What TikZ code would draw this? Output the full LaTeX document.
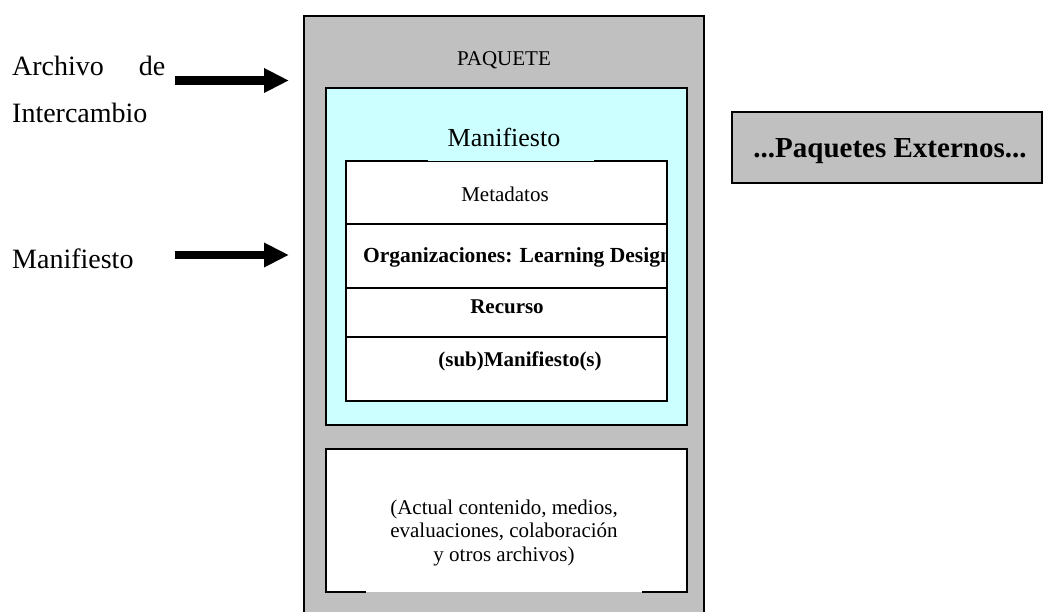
\documentclass[tikz,border=0pt]{standalone}
\usepackage{fontspec}
\setmainfont{Liberation Serif}
\usetikzlibrary{arrows.meta,calc}
\definecolor{pkggray}{HTML}{C0C0C0}
\definecolor{manicyan}{HTML}{CCFFFF}
\tikzset{
  box/.style={rectangle, inner sep=0pt, outer sep=0pt, anchor=north west, draw=none},
  border/.style={line width=1.7pt, line join=miter},
  thinborder/.style={line width=0.5pt},
  divider/.style={line width=1.6pt},
  fatarrow/.style={line width=8.5pt, -{Triangle[length=25pt,width=23pt]}},
  sidelabel/.style={anchor=base west, inner sep=0pt, font=\fontsize{28}{28}\selectfont},
  plain/.style={anchor=base, inner sep=0pt, font=\fontsize{21}{21}\selectfont},
  strong/.style={anchor=base, inner sep=0pt, font=\fontsize{21}{21}\selectfont\bfseries},
}
\begin{document}
\begin{tikzpicture}[x=1pt,y=-1pt]
\useasboundingbox (0,0) rectangle (1044,612);
\fill[white] (0,0) rectangle (1044,612);
\clip (0,0) rectangle (1044,612);

% package container (runs past the lower edge)
\node[box, fill=pkggray, minimum width=400pt, minimum height=620pt] (pkg) at (304,16) {};
\draw[border] (pkg.south west) -- (pkg.north west) -- (pkg.north east) -- (pkg.south east);
\node[plain] (pkgtitle) at (504,66) {PAQUETE};

% manifest region
\node[box, fill=manicyan, minimum width=361pt, minimum height=337pt] (mani) at (326,88) {};
\draw[border] (mani.north west) rectangle (mani.south east);
\node[anchor=base, inner sep=0pt, font=\fontsize{26}{26}\selectfont] (manititle) at (504,147) {Manifiesto};

% manifest contents
\node[box, fill=white, minimum width=321pt, minimum height=240pt] (inner) at (346,161) {};
\begin{scope}
  \clip (inner.north west) rectangle (inner.south east);
  \node[strong, anchor=base west, font=\fontsize{21.5}{21.5}\selectfont\bfseries] (org) at (363,263) {Organizaciones: Learning Design};
\end{scope}
\draw[thinborder] ($(inner.north west)+(82,0)$) -- ($(inner.north east)+(-73,0)$);
\draw[border] ($(inner.north west)+(82,0)$) -- (inner.north west) -- (inner.south west)
  -- (inner.south east) -- (inner.north east) -- ($(inner.north east)+(-73,0)$);
\coordinate (d1) at (346,224);
\coordinate (d2) at (346,288);
\coordinate (d3) at (346,337);
\draw[divider] (d1) -- (d1 -| inner.east);
\draw[divider] (d2) -- (d2 -| inner.east);
\draw[divider] (d3) -- (d3 -| inner.east);
\node[plain] (meta) at (505,202) {Metadatos};
\node[strong] (rec) at (507,313) {Recurso};
\node[strong] (sub) at (520,366) {(sub)Manifiesto(s)};

% content files
\node[box, fill=white, minimum width=361pt, minimum height=143pt] (files) at (326,449) {};
\draw[border] ($(files.south west)+(40,0)$) -- (files.south west) -- (files.north west)
  -- (files.north east) -- (files.south east) -- ($(files.south east)+(-45,0)$);
\node[anchor=base, inner sep=0pt, align=center, font=\fontsize{21}{23.5}\selectfont] (cnt) at (504,561)
  {(Actual contenido, medios,\\evaluaciones, colaboración\\y otros archivos)};

% external packages
\node[box, fill=pkggray, minimum width=310pt, minimum height=71pt] (ext) at (732,112) {};
\draw[border] (ext.north west) rectangle (ext.south east);
\node[anchor=base, inner sep=0pt, font=\fontsize{29}{29}\selectfont\bfseries] (exttitle) at (890,158) {...Paquetes Externos...};

% side labels and arrows
\node[sidelabel] (arch) at (12,76) {\makebox[153pt][s]{Archivo\hfill de}};
\node[sidelabel] (inter) at (12,123) {Intercambio};
\node[sidelabel] (manilab) at (12,269) {Manifiesto};
\coordinate (a1s) at (175,80.5);
\coordinate (a1e) at (289,80.5);
\coordinate (a2s) at (175,255);
\coordinate (a2e) at (289,255);
\draw[fatarrow] (a1s) -- (a1e);
\draw[fatarrow] (a2s) -- (a2e);
\end{tikzpicture}
\end{document}
